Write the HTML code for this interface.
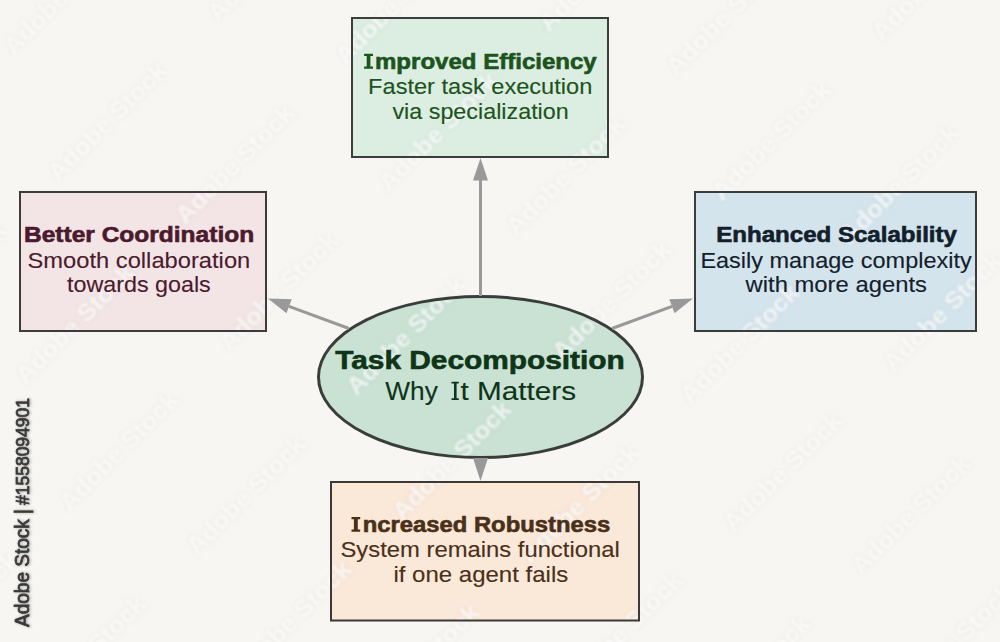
<!DOCTYPE html>
<html>
<head>
<meta charset="utf-8">
<style>
html,body{margin:0;padding:0;}
body{width:1000px;height:642px;overflow:hidden;background:#f7f6f2;font-family:"Liberation Sans",sans-serif;}
svg{display:block;}
text{font-family:"Liberation Sans",sans-serif;}
</style>
</head>
<body>
<svg width="1000" height="642" viewBox="0 0 1000 642">
<rect x="0" y="0" width="1000" height="642" fill="#f7f6f2"/>

<rect x="352" y="18" width="256" height="139" fill="#dcede2"/>
<rect x="20" y="192" width="246" height="139" fill="#f3e5e5"/>
<rect x="695" y="192" width="281" height="139" fill="#d4e4ec"/>
<rect x="331" y="482" width="308" height="138.5" fill="#fae8d9"/>
<ellipse cx="480.5" cy="377" rx="162" ry="80.5" fill="#c9e2d4"/>

<defs><filter id="wsh" x="-10%" y="-40%" width="120%" height="180%"><feGaussianBlur in="SourceAlpha" stdDeviation="2.2" result="b"/><feFlood flood-color="#000" flood-opacity="0.13"/><feComposite in2="b" operator="in" result="s"/><feGaussianBlur in="SourceGraphic" stdDeviation="0.9" result="g0"/><feComponentTransfer in="g0" result="g"><feFuncA type="linear" slope="0.7"/></feComponentTransfer><feMerge><feMergeNode in="s"/><feMergeNode in="g"/></feMerge></filter><filter id="sh" x="-20%" y="-5%" width="140%" height="110%"><feGaussianBlur in="SourceAlpha" stdDeviation="1.6"/><feComponentTransfer><feFuncA type="linear" slope="0.35"/></feComponentTransfer><feOffset dx="1" dy="0"/><feMerge><feMergeNode/><feMergeNode in="SourceGraphic"/></feMerge></filter></defs>
<g class="wm" transform="translate(5,8) rotate(-45)" font-size="24" font-weight="bold" fill="#ffffff" filter="url(#wsh)"><text x="-480" y="40" textLength="156" lengthAdjust="spacingAndGlyphs">Adobe Stock</text><text x="-254" y="40" textLength="156" lengthAdjust="spacingAndGlyphs">Adobe Stock</text><text x="-28" y="40" textLength="156" lengthAdjust="spacingAndGlyphs">Adobe Stock</text><text x="198" y="40" textLength="156" lengthAdjust="spacingAndGlyphs">Adobe Stock</text><text x="424" y="40" textLength="156" lengthAdjust="spacingAndGlyphs">Adobe Stock</text><text x="650" y="40" textLength="156" lengthAdjust="spacingAndGlyphs">Adobe Stock</text><text x="-538" y="161" textLength="156" lengthAdjust="spacingAndGlyphs">Adobe Stock</text><text x="-312" y="161" textLength="156" lengthAdjust="spacingAndGlyphs">Adobe Stock</text><text x="-86" y="161" textLength="156" lengthAdjust="spacingAndGlyphs">Adobe Stock</text><text x="140" y="161" textLength="156" lengthAdjust="spacingAndGlyphs">Adobe Stock</text><text x="366" y="161" textLength="156" lengthAdjust="spacingAndGlyphs">Adobe Stock</text><text x="592" y="161" textLength="156" lengthAdjust="spacingAndGlyphs">Adobe Stock</text><text x="-478" y="281" textLength="156" lengthAdjust="spacingAndGlyphs">Adobe Stock</text><text x="-252" y="281" textLength="156" lengthAdjust="spacingAndGlyphs">Adobe Stock</text><text x="-26" y="281" textLength="156" lengthAdjust="spacingAndGlyphs">Adobe Stock</text><text x="200" y="281" textLength="156" lengthAdjust="spacingAndGlyphs">Adobe Stock</text><text x="426" y="281" textLength="156" lengthAdjust="spacingAndGlyphs">Adobe Stock</text><text x="652" y="281" textLength="156" lengthAdjust="spacingAndGlyphs">Adobe Stock</text><text x="-537" y="402" textLength="156" lengthAdjust="spacingAndGlyphs">Adobe Stock</text><text x="-311" y="402" textLength="156" lengthAdjust="spacingAndGlyphs">Adobe Stock</text><text x="-85" y="402" textLength="156" lengthAdjust="spacingAndGlyphs">Adobe Stock</text><text x="141" y="402" textLength="156" lengthAdjust="spacingAndGlyphs">Adobe Stock</text><text x="367" y="402" textLength="156" lengthAdjust="spacingAndGlyphs">Adobe Stock</text><text x="593" y="402" textLength="156" lengthAdjust="spacingAndGlyphs">Adobe Stock</text><text x="-478" y="523" textLength="156" lengthAdjust="spacingAndGlyphs">Adobe Stock</text><text x="-252" y="523" textLength="156" lengthAdjust="spacingAndGlyphs">Adobe Stock</text><text x="-26" y="523" textLength="156" lengthAdjust="spacingAndGlyphs">Adobe Stock</text><text x="200" y="523" textLength="156" lengthAdjust="spacingAndGlyphs">Adobe Stock</text><text x="426" y="523" textLength="156" lengthAdjust="spacingAndGlyphs">Adobe Stock</text><text x="652" y="523" textLength="156" lengthAdjust="spacingAndGlyphs">Adobe Stock</text><text x="-534" y="644" textLength="156" lengthAdjust="spacingAndGlyphs">Adobe Stock</text><text x="-308" y="644" textLength="156" lengthAdjust="spacingAndGlyphs">Adobe Stock</text><text x="-82" y="644" textLength="156" lengthAdjust="spacingAndGlyphs">Adobe Stock</text><text x="144" y="644" textLength="156" lengthAdjust="spacingAndGlyphs">Adobe Stock</text><text x="370" y="644" textLength="156" lengthAdjust="spacingAndGlyphs">Adobe Stock</text><text x="596" y="644" textLength="156" lengthAdjust="spacingAndGlyphs">Adobe Stock</text><text x="-474" y="765" textLength="156" lengthAdjust="spacingAndGlyphs">Adobe Stock</text><text x="-248" y="765" textLength="156" lengthAdjust="spacingAndGlyphs">Adobe Stock</text><text x="-22" y="765" textLength="156" lengthAdjust="spacingAndGlyphs">Adobe Stock</text><text x="204" y="765" textLength="156" lengthAdjust="spacingAndGlyphs">Adobe Stock</text><text x="430" y="765" textLength="156" lengthAdjust="spacingAndGlyphs">Adobe Stock</text><text x="656" y="765" textLength="156" lengthAdjust="spacingAndGlyphs">Adobe Stock</text><text x="-534" y="886" textLength="156" lengthAdjust="spacingAndGlyphs">Adobe Stock</text><text x="-308" y="886" textLength="156" lengthAdjust="spacingAndGlyphs">Adobe Stock</text><text x="-82" y="886" textLength="156" lengthAdjust="spacingAndGlyphs">Adobe Stock</text><text x="144" y="886" textLength="156" lengthAdjust="spacingAndGlyphs">Adobe Stock</text><text x="370" y="886" textLength="156" lengthAdjust="spacingAndGlyphs">Adobe Stock</text><text x="596" y="886" textLength="156" lengthAdjust="spacingAndGlyphs">Adobe Stock</text><text x="-474" y="1007" textLength="156" lengthAdjust="spacingAndGlyphs">Adobe Stock</text><text x="-248" y="1007" textLength="156" lengthAdjust="spacingAndGlyphs">Adobe Stock</text><text x="-22" y="1007" textLength="156" lengthAdjust="spacingAndGlyphs">Adobe Stock</text><text x="204" y="1007" textLength="156" lengthAdjust="spacingAndGlyphs">Adobe Stock</text><text x="430" y="1007" textLength="156" lengthAdjust="spacingAndGlyphs">Adobe Stock</text><text x="656" y="1007" textLength="156" lengthAdjust="spacingAndGlyphs">Adobe Stock</text><text x="-534" y="1128" textLength="156" lengthAdjust="spacingAndGlyphs">Adobe Stock</text><text x="-308" y="1128" textLength="156" lengthAdjust="spacingAndGlyphs">Adobe Stock</text><text x="-82" y="1128" textLength="156" lengthAdjust="spacingAndGlyphs">Adobe Stock</text><text x="144" y="1128" textLength="156" lengthAdjust="spacingAndGlyphs">Adobe Stock</text><text x="370" y="1128" textLength="156" lengthAdjust="spacingAndGlyphs">Adobe Stock</text><text x="596" y="1128" textLength="156" lengthAdjust="spacingAndGlyphs">Adobe Stock</text></g>
<rect x="352" y="18" width="256" height="139" fill="none" stroke="#3a3f3b" stroke-width="2"/>
<rect x="20" y="192" width="246" height="139" fill="none" stroke="#3d3b3b" stroke-width="2"/>
<rect x="695" y="192" width="281" height="139" fill="none" stroke="#393d3d" stroke-width="2"/>
<rect x="331" y="482" width="308" height="138.5" fill="none" stroke="#3d3936" stroke-width="2"/>
<ellipse cx="480.5" cy="377" rx="162" ry="80.5" fill="none" stroke="#3a3e3a" stroke-width="3"/>
<g fill="#999999">
<line x1="480.5" y1="296" x2="480.5" y2="179" stroke="#999999" stroke-width="3"/>
<polygon points="480.5,158 473,180.5 488,180.5"/>
<polygon points="473,458 488,458 480.5,481"/>
<line x1="349" y1="328.5" x2="289" y2="306.3" stroke="#999999" stroke-width="3"/>
<polygon points="268,298.5 286.5,313.3 291.7,299.3"/>
<line x1="612" y1="328.5" x2="672" y2="306.3" stroke="#999999" stroke-width="3"/>
<polygon points="693,298.5 674.5,313.3 669.3,299.3"/>
</g>
<text x="480.2" y="93.6" text-anchor="middle" font-size="21.5" stroke="#1c541d" stroke-width="0.12" fill="#1c541d" textLength="224.14" lengthAdjust="spacingAndGlyphs">Faster task execution</text>
<text x="480.6" y="118.5" text-anchor="middle" font-size="21.5" stroke="#1c541d" stroke-width="0.12" fill="#1c541d" textLength="176.30" lengthAdjust="spacingAndGlyphs">via specialization</text>
<text x="139.1" y="242.3" text-anchor="middle" font-size="21.5" font-weight="bold" stroke="#4b1a2e" stroke-width="0.6" fill="#4b1a2e" textLength="230.08" lengthAdjust="spacingAndGlyphs">Better Coordination</text>
<text x="138.9" y="267.6" text-anchor="middle" font-size="21.5" stroke="#4b1a2e" stroke-width="0.12" fill="#4b1a2e" textLength="222.74" lengthAdjust="spacingAndGlyphs">Smooth collaboration</text>
<text x="138.9" y="292.1" text-anchor="middle" font-size="21.5" stroke="#4b1a2e" stroke-width="0.12" fill="#4b1a2e" textLength="143.78" lengthAdjust="spacingAndGlyphs">towards goals</text>
<text x="836.6" y="242.3" text-anchor="middle" font-size="21.5" font-weight="bold" stroke="#13202c" stroke-width="0.6" fill="#13202c" textLength="240.60" lengthAdjust="spacingAndGlyphs">Enhanced Scalability</text>
<text x="836.05" y="267.6" text-anchor="middle" font-size="21.5" stroke="#13202c" stroke-width="0.12" fill="#13202c" textLength="271.23" lengthAdjust="spacingAndGlyphs">Easily manage complexity</text>
<text x="836.25" y="292.1" text-anchor="middle" font-size="21.5" stroke="#13202c" stroke-width="0.12" fill="#13202c" textLength="181.36" lengthAdjust="spacingAndGlyphs">with more agents</text>
<text x="480.1" y="556.75" text-anchor="middle" font-size="21.5" stroke="#4a3018" stroke-width="0.12" fill="#4a3018" textLength="279.24" lengthAdjust="spacingAndGlyphs">System remains functional</text>
<text x="480.85" y="581.5" text-anchor="middle" font-size="21.5" stroke="#4a3018" stroke-width="0.12" fill="#4a3018" textLength="174.79" lengthAdjust="spacingAndGlyphs">if one agent fails</text>
<text x="480.0" y="368.8" text-anchor="middle" font-size="25" font-weight="bold" stroke="#0f3518" stroke-width="0.6" fill="#0f3518" textLength="289.46" lengthAdjust="spacingAndGlyphs">Task Decomposition</text>
<text x="375.00" y="68.75" font-size="21.5" font-weight="bold" stroke="#1c541d" stroke-width="0.6" fill="#1c541d" textLength="221.70" lengthAdjust="spacingAndGlyphs">mproved Efficiency</text>
<text x="362.70" y="531.7" font-size="21.5" font-weight="bold" stroke="#4a3018" stroke-width="0.6" fill="#4a3018" textLength="247.50" lengthAdjust="spacingAndGlyphs">ncreased Robustness</text>
<text x="385.30" y="400.0" font-size="25" stroke="#0f3518" stroke-width="0.12" fill="#0f3518" textLength="52.50" lengthAdjust="spacingAndGlyphs">Why</text>
<text x="460.50" y="400.0" font-size="25" stroke="#0f3518" stroke-width="0.12" fill="#0f3518" textLength="115.50" lengthAdjust="spacingAndGlyphs">t Matters</text>
<path class="ig" fill="#1c541d" d="M364.1,53.8H373.0V56.099999999999994H370.4V66.4H373.0V68.7H364.1V66.4H366.7V56.099999999999994H364.1Z"/>
<path class="ig" fill="#4a3018" d="M351.5,517.0H360.2V519.3H357.8V529.4000000000001H360.2V531.7H351.5V529.4000000000001H353.9V519.3H351.5Z"/>
<path class="ig" fill="#0f3518" d="M451.5,381.75H458.75V383.45H456.6V398.3H458.75V400.0H451.5V398.3H454.0V383.45H451.5Z"/>
<g filter="url(#sh)" fill="#3a3a3a" stroke="#3a3a3a" stroke-width="0.8"><text transform="translate(29,627) rotate(-90)" font-size="20" textLength="118" lengthAdjust="spacingAndGlyphs">Adobe Stock |</text><text transform="translate(29,505) rotate(-90)" font-size="18.5" textLength="107" lengthAdjust="spacingAndGlyphs">#1558094901</text></g>
</svg>
</body>
</html>
